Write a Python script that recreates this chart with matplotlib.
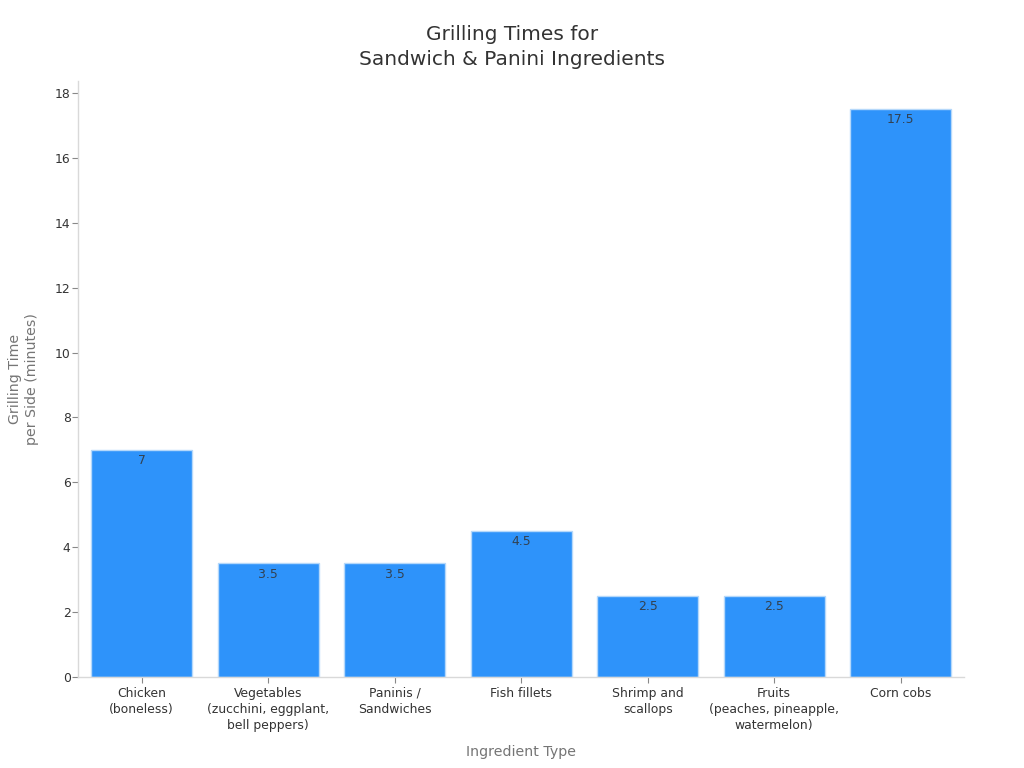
import matplotlib
matplotlib.use("Agg")
import matplotlib.pyplot as plt

categories = ["Chicken\n(boneless)", "Vegetables\n(zucchini, eggplant,\nbell peppers)", "Paninis /\nSandwiches",
              "Fish fillets", "Shrimp and\nscallops", "Fruits\n(peaches, pineapple,\nwatermelon)", "Corn cobs"]
values = [7, 3.5, 3.5, 4.5, 2.5, 2.5, 17.5]
value_labels = ["7", "3.5", "3.5", "4.5", "2.5", "2.5", "17.5"]
yticks = [0, 2, 4, 6, 8, 10, 12, 14, 16, 18]

plt.rcParams['font.family'] = 'DejaVu Sans'
fig = plt.figure(figsize=(10.24, 7.68), dpi=100)
ax = fig.add_axes([78.4/1024, 1-677/768, (964-78.4)/1024, (677-81)/768])
x = range(len(values))
bars = ax.bar(x, values, width=0.8, color="#2E93FA", edgecolor="#B5D8FA", linewidth=1)
ax.set_xlim(-0.5, 6.5)
ax.set_ylim(0, 18.37)
ax.set_xticks(list(x))
ax.set_xticklabels(categories, fontsize=8.9, color="#333333", linespacing=1.32)
ax.set_yticks(yticks)
ax.tick_params(axis='y', labelsize=8.9, labelcolor="#333333", color="#888888", length=4, width=0.8, pad=1.6)
ax.tick_params(axis='x', color="#888888", length=4, width=0.8, pad=3.2)
for s in ("top", "right"):
    ax.spines[s].set_visible(False)
for s in ("left", "bottom"):
    ax.spines[s].set_color("#D9D9D9")
    ax.spines[s].set_linewidth(1)
for xi, v, lab in zip(x, values, value_labels):
    ax.annotate(lab, (xi, v), xytext=(0, -3), textcoords="offset points", ha="center", va="top",
                fontsize=8.9, color="#333333", alpha=0.85)
ax.set_ylabel("Grilling Time\nper Side (minutes)", fontsize=10.2, color="#757575", labelpad=11.2, linespacing=1.32)
ax.set_xlabel("Ingredient Type", fontsize=10.2, color="#757575", labelpad=9)
ax.set_title("Grilling Times for\nSandwich & Panini Ingredients", fontsize=14.5, color="#333333", pad=11.3, linespacing=1.4, x=0.4893)
fig.savefig("out.png", dpi=100)
